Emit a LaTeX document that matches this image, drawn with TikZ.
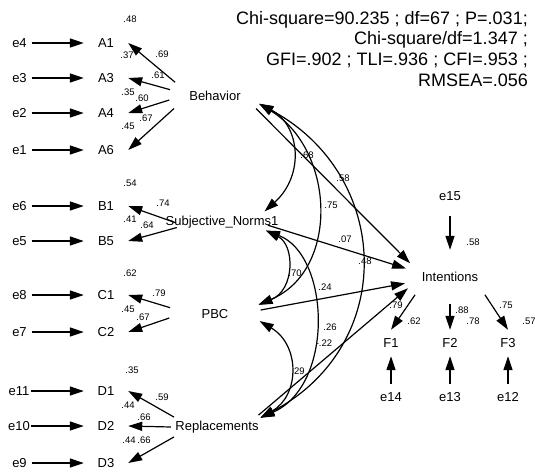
\documentclass[tikz,border=0pt]{standalone}
\usepackage{fontspec}
\setmainfont{Liberation Sans}
\usepackage{tikz}
\usetikzlibrary{arrows.meta,shapes.geometric}

\tikzset{
  obs/.style={rectangle, minimum width=44pt, minimum height=26pt, inner sep=0pt, font=\fontsize{13}{15}\selectfont},
  err/.style={rectangle, minimum width=24pt, minimum height=26pt, inner sep=1pt, font=\fontsize{13}{15}\selectfont},
  lat/.style={ellipse, minimum width=92pt, minimum height=54pt, inner sep=0pt, font=\fontsize{13}{15}\selectfont},
  coef/.style={inner sep=0pt, font=\fontsize{9.5}{11}\selectfont},
  reg/.style={line width=1.2pt, -{Triangle[length=14pt,width=9pt]}},
  cov/.style={line width=1.2pt, {Triangle[length=14pt,width=9pt]}-{Triangle[length=14pt,width=9pt]}},
}

\begin{document}
\begin{tikzpicture}[x=1pt, y=-1pt]
        \useasboundingbox (0,0) rectangle (535,471);
        % fit indices
        \node [anchor=north east, align=right, inner sep=0pt, font=\fontsize{18}{20.7}\selectfont] (fit) at (528,11)
              {Chi-square=90.235 ; df=67 ; P=.031;\\ Chi-square/df=1.347 ;\\ GFI=.902 ; TLI=.936 ; CFI=.953 ;\\ RMSEA=.056};

        % latent variables
        \node [lat] (Beh)  at (215,96)  {Behavior};                       %
        \node [lat] (SN)   at (222,222) {\makebox[0pt]{Subjective\_Norms1}};
        \node [lat] (PBC)  at (215,314) {PBC};                            %
        \node [lat] (Repl) at (217,427) {\makebox[0pt]{Replacements}};    %
        \node [lat] (Int)  at (450,277) {Intentions};                     %

        % indicators
        \node [obs] (A1) at (106,43)  {A1};
        \node [obs] (A3) at (106,78)  {A3};
        \node [obs] (A4) at (106,113) {A4};
        \node [obs] (A6) at (106,150) {A6};
        \node [obs] (B1) at (106,206) {B1};
        \node [obs] (B5) at (106,241) {B5};
        \node [obs] (C1) at (106,295) {C1};
        \node [obs] (C2) at (106,332) {C2};
        \node [obs] (D1) at (106,391) {D1};
        \node [obs] (D2) at (106,426) {D2};
        \node [obs] (D3) at (106,463) {D3};
        \node [obs] (F1) at (391,343) {F1};
        \node [obs] (F2) at (450,343) {F2};
        \node [obs] (F3) at (508,343) {F3};

        % errors
        \node [err] (e4)  at (19.5,43)  {e4};
        \node [err] (e3)  at (19.5,78)  {e3};
        \node [err] (e2)  at (19.5,113) {e2};
        \node [err] (e1)  at (19.5,150) {e1};
        \node [err] (e6)  at (19.5,206) {e6};
        \node [err] (e5)  at (19.5,241) {e5};
        \node [err] (e8)  at (19.5,295) {e8};
        \node [err] (e7)  at (19.5,332) {e7};
        \node [err] (e11) at (19,391)   {e11};
        \node [err] (e10) at (19,426)   {e10};
        \node [err] (e9)  at (19.5,463) {e9};
        \node [err] (e15) at (450,196)  {e15};
        \node [err] (e14) at (391,397)  {e14};
        \node [err] (e13) at (450,397)  {e13};
        \node [err] (e12) at (508,397)  {e12};

        % error paths
        \draw [reg] (e4) -- (A1);  \draw [reg] (e3) -- (A3);
        \draw [reg] (e2) -- (A4);  \draw [reg] (e1) -- (A6);
        \draw [reg] (e6) -- (B1);  \draw [reg] (e5) -- (B5);
        \draw [reg] (e8) -- (C1);  \draw [reg] (e7) -- (C2);
        \draw [reg] (e11) -- (D1); \draw [reg] (e10) -- (D2);
        \draw [reg] (e9) -- (D3);
        \draw [reg] (e14) -- (F1); \draw [reg] (e13) -- (F2);
        \draw [reg] (e12) -- (F3);
        \draw [reg, shorten <=7pt] (e15) -- (Int.90);

        % loadings
        \draw [reg] (Beh.161)  -- (A1.east);
        \draw [reg] (Beh.172)  -- (A3.east);
        \draw [reg] (Beh.185)  -- (A4.east);
        \draw [reg] (Beh.197)  -- (A6.east);
        \draw [reg] (SN.181)   -- (B1.east);
        \draw [reg] (SN.187)   -- (B5.east);
        \draw [reg] (PBC.172)  -- (C1.east);
        \draw [reg] (PBC.185)  -- (C2.east);
        \draw [reg] (Repl.167) -- (D1.east);
        \draw [reg] (Repl.180) -- (D2.east);
        \draw [reg] (Repl.193) -- (D3.east);
        \draw [reg] (Int.207)  -- (F1.north);
        \draw [reg] (Int.270)  -- (F2.north);
        \draw [reg] (Int.-27)  -- (F3.north);

        % structural paths
        \draw [reg] (Beh.-17)  -- (Int.161);
        \draw [reg] (SN.-4)    -- (Int.169);
        \draw [reg] (PBC.5)    -- (Int.188);
        \draw [reg] (Repl.16)  -- (Int.195);

        % covariances
        \draw [cov] (Beh.-10) .. controls (300,125) and (305,175) .. (SN.14);    %.68
        \draw [cov] (Beh.-10) .. controls (335,150) and (340,270) .. (PBC.12);   %.75
        \draw [cov] (Beh.-10) .. controls (392,175) and (398,345) .. (Repl.12);  %.48
        \draw [cov] (SN.-11)  .. controls (295,245) and (295,290) .. (PBC.12);   %.70
        \draw [cov] (SN.-11)  .. controls (330,255) and (335,385) .. (Repl.12);  %.26
        \draw [cov] (PBC.-9)  .. controls (300,345) and (300,395) .. (Repl.12);  %.29

        % estimates
        \node [coef] (rA1) at (130,19)  {.48};
        \node [coef] (rA3) at (127,55)  {.37};
        \node [coef] (rA4) at (128,92)  {.35};
        \node [coef] (rA6) at (128,126) {.45};
        \node [coef] (lA1) at (162,54)  {.69};
        \node [coef] (lA3) at (158,75)  {.61};
        \node [coef] (lA4) at (142,98)  {.60};
        \node [coef] (lA6) at (146,118) {.67};
        \node [coef] (rB1) at (130,183) {.54};
        \node [coef] (rB5) at (130,219) {.41};
        \node [coef] (lB1) at (163,203) {.74};
        \node [coef] (lB5) at (147,225) {.64};
        \node [coef] (rC1) at (130,273) {.62};
        \node [coef] (rC2) at (128,309) {.45};
        \node [coef] (lC1) at (159,293) {.79};
        \node [coef] (lC2) at (143,317) {.67};
        \node [coef] (rD1) at (132,370) {.35};
        \node [coef] (rD2) at (128,405) {.44};
        \node [coef] (rD3) at (129,440) {.44};
        \node [coef] (lD1) at (162,397) {.59};
        \node [coef] (lD2) at (144,417) {.66};
        \node [coef] (lD3) at (144,440) {.66};
        \node [coef] (rInt) at (473,242) {.58};
        \node [coef] (rF1) at (414,321) {.62};
        \node [coef] (rF2) at (473,321) {.78};
        \node [coef] (rF3) at (529,321) {.57};
        \node [coef] (lF1) at (396,305) {.79};
        \node [coef] (lF2) at (462,310) {.88};
        \node [coef] (lF3) at (506,305) {.75};
        \node [coef] (bBeh)  at (343,178) {.58};
        \node [coef] (bSN)   at (345,239) {.07};
        \node [coef] (bPBC)  at (325,287) {.24};
        \node [coef] (bRepl) at (324,343) {-.22};
        \node [coef] (cBS)   at (307,155) {.68};
        \node [coef] (cBP)   at (331,205) {.75};
        \node [coef] (cBR)   at (365,261) {.48};
        \node [coef] (cSP)   at (295,273) {.70};
        \node [coef] (cSR)   at (330,327) {.26};
        \node [coef] (cPR)   at (298,371) {.29};
\end{tikzpicture}
\end{document}
